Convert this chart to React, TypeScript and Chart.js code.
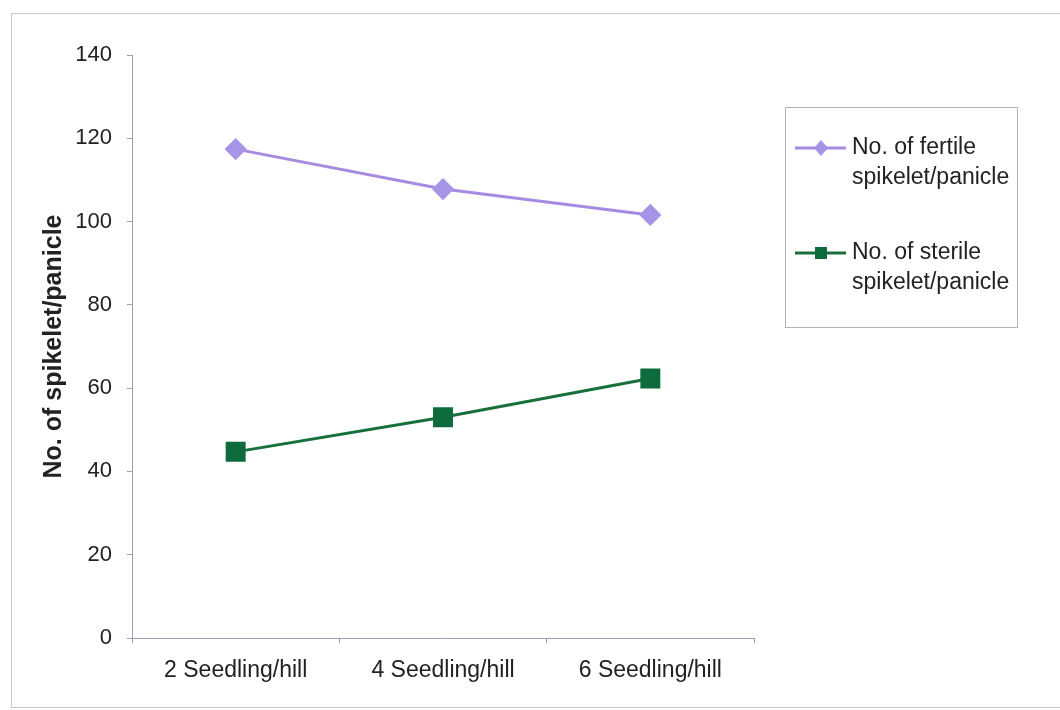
import React, { useEffect, useRef } from "react";
import { Chart, registerables } from "chart.js";

Chart.register(...registerables);

const categories = ["2 Seedling/hill", "4 Seedling/hill", "6 Seedling/hill"];
const fertileValues = [117.4, 107.8, 101.6];
const sterileValues = [44.7, 53.0, 62.3];
const seriesLabels = [
  ["No. of fertile", "spikelet/panicle"],
  ["No. of sterile", "spikelet/panicle"],
];
const yTitle = "No. of spikelet/panicle";

const FONT = "'Liberation Sans', Arial, sans-serif";
const fertileColor = "#a894e6";
const fertileLine = "#a88be0";
const sterileColor = "#0e6b3c";
const sterileLine = "#17703c";

const framePlugin = {
  id: "frame",
  beforeDraw(chart: any) {
    const ctx = chart.ctx;
    ctx.save();
    ctx.fillStyle = "#ffffff";
    ctx.fillRect(0, 0, chart.width, chart.height);
    ctx.strokeStyle = "#c4c8cc";
    ctx.lineWidth = 1;
    ctx.strokeRect(11.5, 13.5, 1060, 694);
    ctx.restore();
  },
};

const legendPlugin = {
  id: "customLegend",
  afterDraw(chart: any) {
    const ctx = chart.ctx;
    ctx.save();
    ctx.strokeStyle = "#b0b4b8";
    ctx.lineWidth = 1;
    ctx.strokeRect(785.5, 107.5, 232, 220);
    ctx.font = `23px ${FONT}`;
    ctx.textBaseline = "middle";
    ctx.textAlign = "left";
    const rows = [148, 253];
    chart.data.datasets.forEach((ds: any, i: number) => {
      const y = rows[i];
      ctx.strokeStyle = ds.borderColor;
      ctx.lineWidth = 3;
      ctx.beginPath();
      ctx.moveTo(795, y);
      ctx.lineTo(846, y);
      ctx.stroke();
      ctx.fillStyle = ds.pointBackgroundColor;
      if (ds.pointStyle === "rectRot") {
        ctx.beginPath();
        ctx.moveTo(821, y - 8);
        ctx.lineTo(828, y);
        ctx.lineTo(821, y + 8);
        ctx.lineTo(814, y);
        ctx.closePath();
        ctx.fill();
      } else {
        ctx.fillRect(815, y - 6, 12, 12);
      }
      ctx.fillStyle = "#222222";
      const lines = seriesLabels[i];
      ctx.fillText(lines[0], 852, y);
      ctx.fillText(lines[1], 852, y + 30);
    });
    ctx.restore();
  },
};

export default function App() {
  const ref = useRef<HTMLCanvasElement | null>(null);
  useEffect(() => {
    if (!ref.current) return;
    const chart = new Chart(ref.current, {
      type: "line",
      data: {
        labels: categories,
        datasets: [
          {
            label: seriesLabels[0].join(" "),
            data: fertileValues,
            borderColor: fertileLine,
            backgroundColor: fertileColor,
            pointBackgroundColor: fertileColor,
            pointBorderColor: fertileColor,
            pointStyle: "rectRot",
            pointRadius: 9,
            borderWidth: 3,
            tension: 0,
          },
          {
            label: seriesLabels[1].join(" "),
            data: sterileValues,
            borderColor: sterileLine,
            backgroundColor: sterileColor,
            pointBackgroundColor: sterileColor,
            pointBorderColor: sterileColor,
            pointStyle: "rect",
            pointRadius: 12,
            borderWidth: 3,
            tension: 0,
          },
        ],
      },
      options: {
        responsive: false,
        animation: false,
        layout: { padding: { left: 36, top: 55, right: 306, bottom: 22 } },
        plugins: {
          legend: { display: false },
          tooltip: { enabled: false },
        },
        scales: {
          x: {
            offset: true,
            grid: {
              offset: true,
              drawOnChartArea: false,
              drawTicks: true,
              tickLength: 5,
              color: "#9aa0b4",
            },
            border: { display: true, color: "#9aa0b4", width: 1 },
            ticks: {
              color: "#222222",
              font: { family: FONT, size: 23 },
              padding: 14,
              maxRotation: 0,
            },
            afterFit(scale: any) {
              scale.height = 50;
            },
          },
          y: {
            min: 0,
            max: 140,
            ticks: {
              stepSize: 20,
              color: "#222222",
              font: { family: FONT, size: 22 },
              padding: 15,
            },
            grid: {
              drawOnChartArea: false,
              drawTicks: true,
              tickLength: 5,
              color: "#9aa0b4",
            },
            border: { display: true, color: "#9aa0b4", width: 1 },
            title: {
              display: true,
              text: yTitle,
              color: "#222222",
              font: { family: FONT, size: 25, weight: "bold" },
              padding: { top: 3, bottom: 0 },
            },
            afterFit(scale: any) {
              scale.width = 96;
            },
          },
        },
      },
      plugins: [framePlugin, legendPlugin],
    });
    return () => chart.destroy();
  }, []);
  return (
    <div style={{ position: "fixed", left: 0, top: 0, width: 1060, height: 710, background: "#fff" }}>
      <canvas ref={ref} width={1060} height={710} />
    </div>
  );
}
